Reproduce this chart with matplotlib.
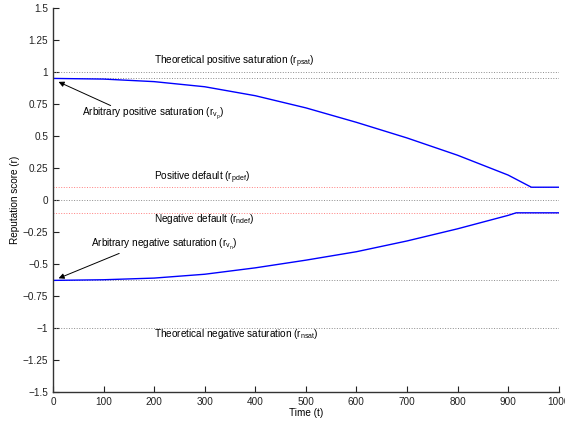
import numpy as np
import matplotlib.pyplot as plt
from matplotlib.ticker import FuncFormatter

plt.rcParams['font.family'] = ['Liberation Sans', 'DejaVu Sans']
plt.rcParams['mathtext.default'] = 'regular'

# values
t_pos = [0, 100, 200, 300, 400, 500, 600, 700, 800, 900, 946, 1000]
r_pos = [0.95, 0.945, 0.925, 0.885, 0.815, 0.72, 0.607, 0.485, 0.35, 0.195, 0.10, 0.10]

t_neg = [0, 100, 200, 300, 400, 500, 600, 700, 800, 900, 916, 1000]
r_neg = [-0.628, -0.623, -0.61, -0.58, -0.53, -0.47, -0.404, -0.32, -0.225, -0.12, -0.10, -0.10]

r_psat = 1.0
r_nsat = -1.0
r_pdef = 0.1
r_ndef = -0.1
r_vp = 0.95
r_vn = -0.625

fig = plt.figure(figsize=(5.65, 4.21), dpi=100)
ax = fig.add_axes([0.0938, 0.0689, 0.895, 0.912])

gray = '#8c8c8c'
pink = '#ff7f7f'
for yv in [r_psat, r_vp, 0, r_vn, r_nsat]:
    ax.plot([0, 1000], [yv, yv], ':', color=gray, lw=0.7)
for yv in [r_pdef, r_ndef]:
    ax.plot([0, 1000], [yv, yv], ':', color=pink, lw=0.7)

ax.plot(t_pos, r_pos, color='blue', lw=1.0)
ax.plot(t_neg, r_neg, color='blue', lw=1.0)

fs = 7.2
ax.text(200, 1.06, r'Theoretical positive saturation (r$_{psat}$)', fontsize=fs)
ax.text(200, 0.156, r'Positive default (r$_{pdef}$)', fontsize=fs)
ax.text(200, -0.17, r'Negative default (r$_{ndef}$)', fontsize=fs)
ax.text(200, -1.07, r'Theoretical negative saturation (r$_{nsat}$)', fontsize=fs)

arrow = dict(arrowstyle='-|>', color='black', lw=0.7, mutation_scale=8)
ax.annotate('', xy=(6, 0.932), xytext=(119, 0.729), arrowprops=arrow)
ax.annotate('', xy=(6, -0.62), xytext=(136, -0.409), arrowprops=arrow)
ax.text(57, 0.656, r'Arbitrary positive saturation (r$_{v_p}$)', fontsize=fs)
ax.text(75, -0.37, r'Arbitrary negative saturation (r$_{v_n}$)', fontsize=fs)

ax.set_xlim(0, 1000)
ax.set_ylim(-1.5, 1.5)
ax.set_xticks(np.arange(0, 1001, 100))
ax.set_yticks(np.arange(-1.5, 1.51, 0.25))
ax.yaxis.set_major_formatter(FuncFormatter(lambda v, p: ('%g' % v).replace('-', '\u2212')))
ax.spines['top'].set_visible(False)
ax.spines['right'].set_visible(False)
for s in ['left', 'bottom']:
    ax.spines[s].set_color('#333333')
    ax.spines[s].set_linewidth(1.0)
ax.tick_params(direction='in', length=4, width=0.8, labelsize=fs, colors='#222222')
ax.set_xlabel('Time (t)', fontsize=fs, labelpad=1)
ax.set_ylabel('Reputation score (r)', fontsize=fs, labelpad=2)

fig.savefig('out.png', dpi=100)
